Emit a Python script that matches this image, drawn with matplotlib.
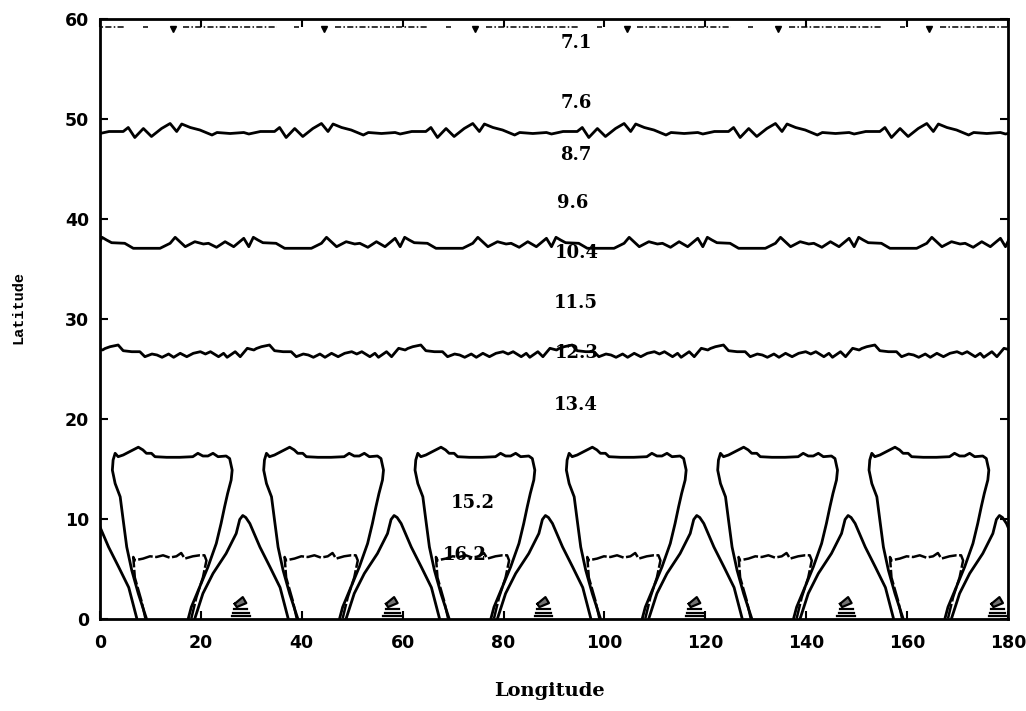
import matplotlib
matplotlib.use("Agg")
import matplotlib.pyplot as plt
import numpy as np

# ---------------- data ----------------
x_ticks = [0, 20, 40, 60, 80, 100, 120, 140, 160, 180]
y_ticks = [0, 10, 20, 30, 40, 50, 60]

# the pattern repeats every 30 degrees of longitude
cup_offsets = [0, 30, 60, 90, 120, 150]
tri_offsets = [-30, 0, 30, 60, 90, 120, 150]
line_offsets = [-30, 0, 30, 60, 90, 120, 150]

# outer "cup" contour (one period)
cup_x = [9.2, 7.6, 6.3, 5.3, 4.6, 4.0, 3.0, 2.45, 2.6, 3.0,
         3.6, 4.6, 5.9, 7.6, 8.5, 9.2, 10.2, 10.9, 13.2, 15.8, 18.4, 19.4,
         20.4, 21.4, 22.4, 23.4, 25.0, 25.7,
         26.2, 26.0, 25.3, 24.7, 24.0, 23.05, 21.4, 19.75, 18.1, 17.5]
cup_y = [0.0, 2.48, 4.81, 7.15, 9.83, 12.17, 13.5, 14.84, 15.85, 16.52,
         16.18, 16.35, 16.69, 17.13, 16.86, 16.52, 16.52, 16.18, 16.12, 16.12, 16.18, 16.52,
         16.25, 16.25, 16.52, 16.18, 16.25, 16.0,
         14.84, 13.85, 12.5, 11.17, 9.5, 7.5, 5.15, 3.14, 1.14, 0.0]

# inner dashed contour (16.2)
inner_x = [9.0, 8.2, 6.9, 6.6, 6.9, 8.55, 9.9, 11.2, 12.5, 13.8, 15.15, 16.1,
           16.8, 18.4, 19.75, 20.7, 21.1, 20.4, 19.1, 18.1]
inner_y = [0.0, 1.8, 4.1, 6.15, 5.82, 5.99, 6.22, 6.15, 6.32, 6.09, 6.22, 6.55,
           5.99, 6.22, 6.32, 6.32, 5.8, 4.1, 2.1, 0.0]

# triangular contour between cups
tri_x = [18.8, 20.4, 22.4, 25.0, 27.0, 27.7, 28.3, 28.9, 29.7, 31.7, 33.7, 35.7, 37.3]
tri_y = [0.0, 2.5, 4.5, 6.5, 8.5, 9.9, 10.3, 10.1, 9.5, 7.15, 5.15, 3.1, 0.0]

# small closed contours near the equator
blob_x = [26.7, 28.3, 29.0, 27.1, 26.7]
blob_y = [1.47, 2.14, 1.54, 1.14, 1.47]
ring_lat = [0.95, 0.6, 0.3]
ring_lon0 = [26.6, 26.4, 26.2]
ring_lon1 = [29.2, 29.5, 29.7]

# wavy contours (one period each)
lineA_x = [2.1, 4.6, 5.6, 6.9, 8.6, 10.2, 12.2, 13.9, 15.2, 16.2, 17.9, 19.8,
           22.2, 23.2, 25.8, 28.5, 29.5, 31.8]
lineA_y = [48.7, 48.7, 49.1, 48.1, 49.0, 48.2, 49.0, 49.5, 48.7, 49.45, 49.1, 48.85,
           48.35, 48.6, 48.5, 48.6, 48.45, 48.7]
lineB_x = [1.3, 2.3, 4.9, 6.6, 11.9, 13.9, 14.9, 16.9, 18.8, 20.5, 21.5, 23.1,
           24.8, 26.5, 28.5, 29.5, 30.4]
lineB_y = [37.85, 37.58, 37.52, 37.02, 37.02, 37.52, 38.12, 37.18, 37.68, 37.45, 37.52, 37.12,
           37.68, 37.18, 38.02, 37.18, 38.12]
lineC_x = [1.0, 2.0, 3.6, 4.6, 6.3, 7.9, 8.9, 10.3, 11.3, 12.3, 13.6, 14.6, 15.9,
           17.2, 18.5, 19.9, 20.9, 21.9, 23.5, 24.5, 25.2, 26.8, 27.8, 29.2, 30.5]
lineC_y = [27.0, 27.18, 27.35, 26.78, 26.68, 26.68, 26.18, 26.45, 26.35, 26.12, 26.45, 26.12, 26.52,
           26.18, 26.52, 26.68, 26.45, 26.68, 26.18, 26.52, 26.12, 26.68, 26.18, 27.02, 26.85]

# broken dash-dot contour near the top
top_lat = 59.2
top_seg_start = [8.5, 16.5]
top_seg_end = [9.5, 35.0]
top_mark_lon = 14.4
top_mark_lat = 58.95

# contour value labels
label_text = ["7.1", "7.6", "8.7", "9.6", "10.4", "11.5", "12.3", "13.4", "15.2", "16.2"]
label_lon = [94.4, 94.4, 94.4, 93.8, 94.6, 94.4, 94.4, 94.3, 73.8, 72.2]
label_lat = [57.6, 51.5, 46.4, 41.5, 36.5, 31.5, 26.5, 21.35, 11.55, 6.35]

# ---------------- figure ----------------
W, H = 1026, 711
fig = plt.figure(figsize=(W / 100, H / 100), dpi=100)
ax = fig.add_axes([100 / W, (H - 618.5) / H, 908 / W, 600 / H])
ax.set_xlim(0, 180)
ax.set_ylim(0, 60)

LW = 2.0
kw = dict(color="black", lw=LW, solid_joinstyle="round", solid_capstyle="round")

for off in cup_offsets:
    ax.plot(np.asarray(cup_x) + off, cup_y, **kw)
    ax.plot(np.asarray(inner_x) + off, inner_y, color="black", lw=1.8,
            linestyle=(0, (6, 1.0)), dash_joinstyle="round")
    ax.fill(np.asarray(blob_x) + off, blob_y, color="black", alpha=0.55, lw=0)
    ax.plot(np.asarray(blob_x) + off, blob_y, color="black", lw=1.6)
    for rl, r0, r1 in zip(ring_lat, ring_lon0, ring_lon1):
        ax.plot([r0 + off, r1 + off], [rl, rl], color="black", lw=1.6)

for off in tri_offsets:
    ax.plot(np.asarray(tri_x) + off, tri_y, **kw)

for xs, ys in [(lineA_x, lineA_y), (lineB_x, lineB_y), (lineC_x, lineC_y)]:
    X = np.concatenate([np.asarray(xs) + o for o in line_offsets])
    Y = np.tile(ys, len(line_offsets))
    ax.plot(X, Y, **kw)

for off in line_offsets:
    for s, e in zip(top_seg_start, top_seg_end):
        ax.plot([s + off, e + off], [top_lat, top_lat], color="black", lw=1.1,
                linestyle=(0, (4, 1.5, 1, 1.5)))
    ax.plot([top_mark_lon + off], [top_mark_lat], marker="v", color="black",
            markersize=5, linestyle="none")

for t, lx, ly in zip(label_text, label_lon, label_lat):
    ax.text(lx, ly, t, ha="center", va="center", fontsize=13,
            fontweight="bold", family="DejaVu Serif")

# axes styling
for sp in ax.spines.values():
    sp.set_linewidth(2.0)
ax.set_xticks(x_ticks, labels=[str(v) for v in x_ticks],
              fontsize=12.5, fontweight="bold")
ax.set_yticks(y_ticks, labels=[str(v) for v in y_ticks],
              fontsize=12.5, fontweight="bold")
ax.tick_params(direction="in", length=6, width=1.5, top=True, right=True)
ax.tick_params(axis="x", pad=11)
ax.tick_params(axis="y", pad=8)

fig.text(549 / W, 1 - 691 / H, "Longitude", ha="center", va="center",
         fontsize=14, fontweight="bold", family="DejaVu Serif")
fig.text(18 / W, 1 - 307 / H, "Latitude", ha="center", va="center",
         rotation=90, fontsize=11, fontweight="bold", family="Liberation Mono")

fig.savefig("out.png", dpi=100)
